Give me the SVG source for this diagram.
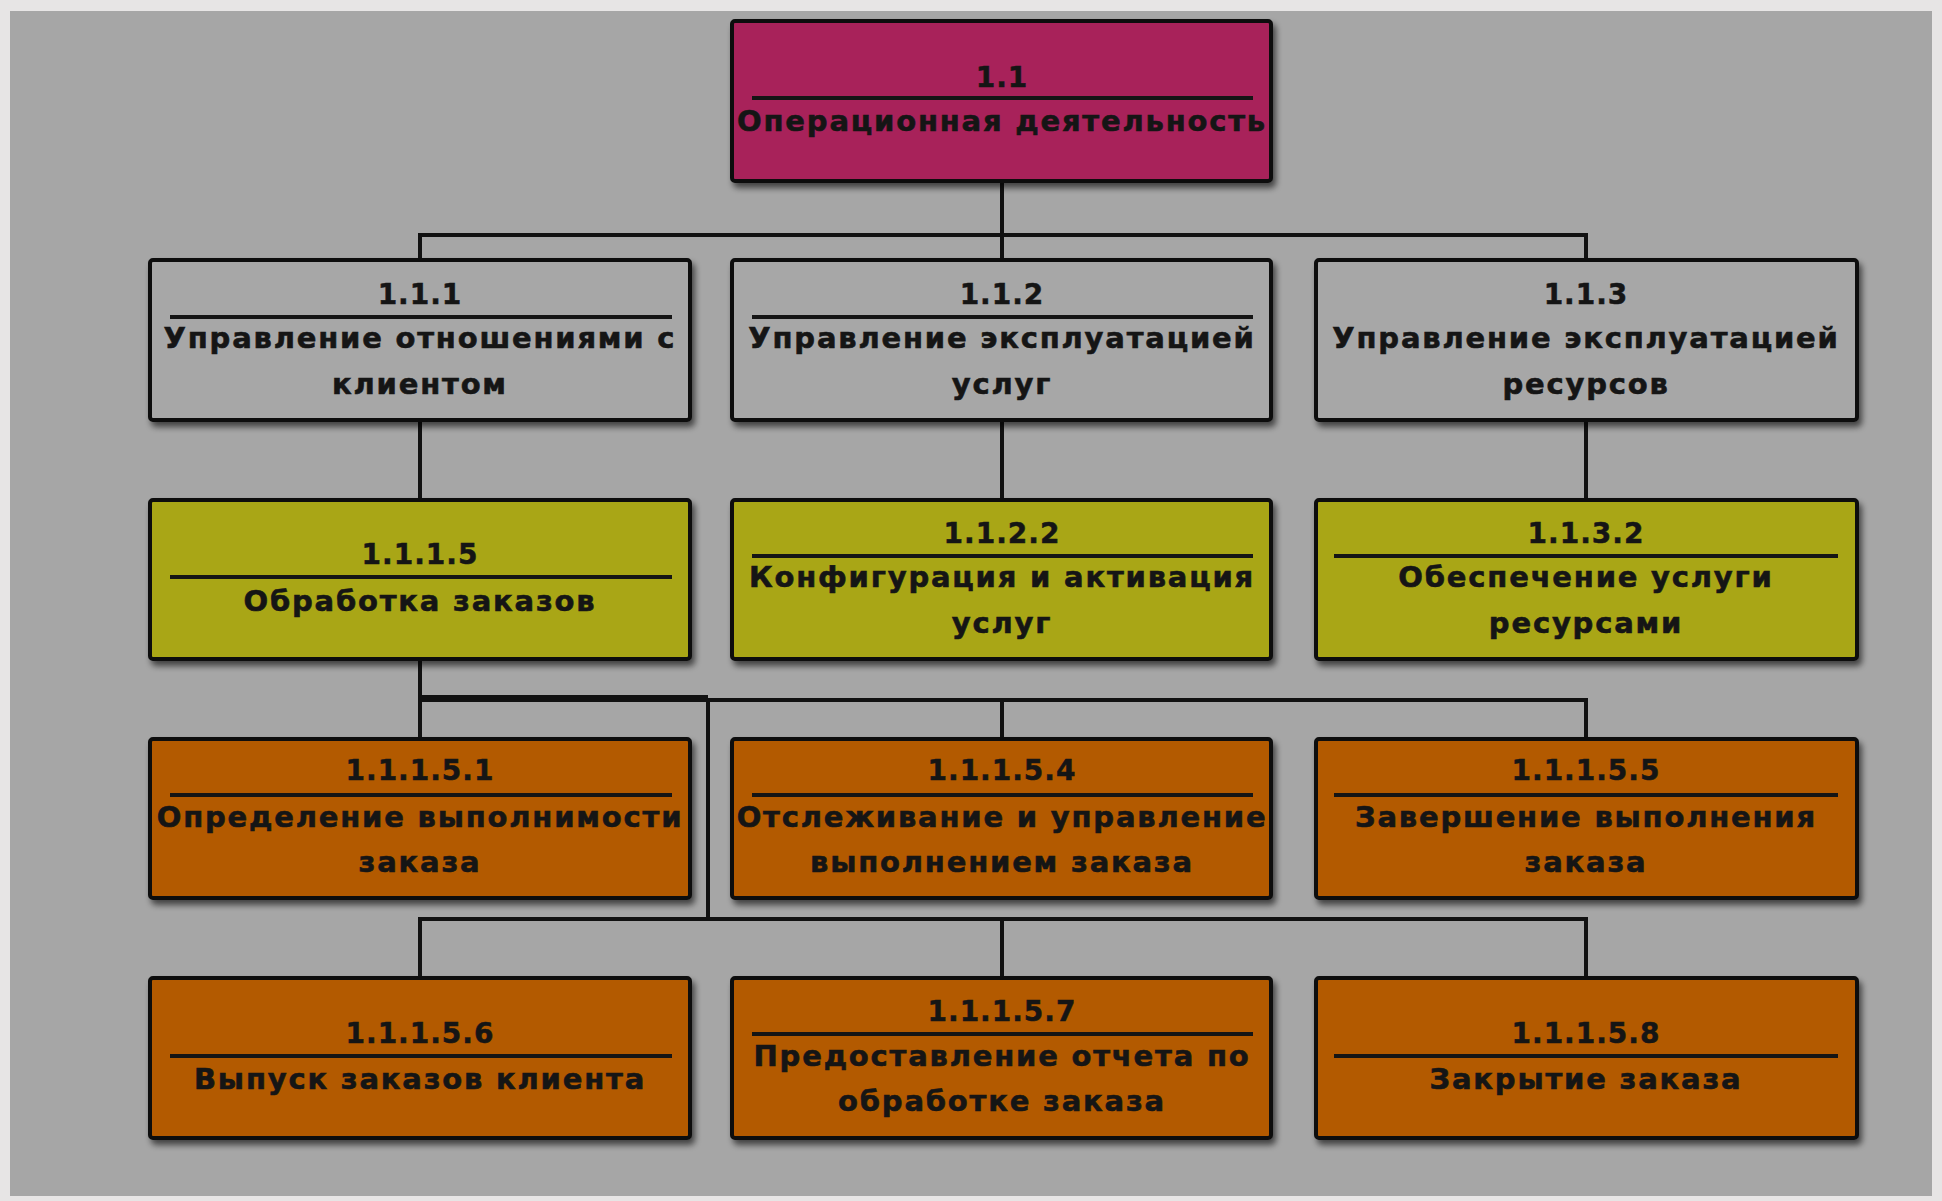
<svg xmlns="http://www.w3.org/2000/svg" width="1942" height="1201" viewBox="0 0 1942 1201">
<defs>
<filter id="sh" x="-5%" y="-10%" width="115%" height="130%">
<feGaussianBlur in="SourceAlpha" stdDeviation="3"/>
<feOffset dx="3" dy="5" result="b"/>
<feComponentTransfer><feFuncA type="linear" slope="0.6"/></feComponentTransfer>
<feMerge><feMergeNode/><feMergeNode in="SourceGraphic"/></feMerge>
</filter>
<style>
.box{stroke:#111;stroke-width:4;filter:url(#sh)}
.mag{fill:#a8205a}
.gr{fill:#a7a7a7}
.ye{fill:#a9a612}
.or{fill:#b35a00}
.sep{stroke:#151515;stroke-width:4}
.num{font-family:"DejaVu Sans",Verdana,sans-serif;font-weight:bold;font-size:28px;letter-spacing:1px;fill:#151515;text-anchor:middle;stroke:#151515;stroke-width:0.5}
.lbl{font-family:"DejaVu Sans",Verdana,sans-serif;font-weight:bold;font-size:29px;letter-spacing:1.8px;fill:#151515;text-anchor:middle;stroke:#151515;stroke-width:0.6}
.con{fill:none;stroke:#111;stroke-width:4}
</style>
</defs>
<rect x="0" y="0" width="1942" height="1201" fill="#e7e5e5"/>
<rect x="10" y="11" width="1922" height="1185" fill="#a6a6a6"/>

<g id="connectors">
<path class="con" d="M1002,181 V260"/>
<path class="con" d="M420,260 V235 H1586 V260"/>
<path class="con" d="M420,420 V500 M1002,420 V500 M1586,420 V500"/>
<path class="con" d="M420,659 V739 M420,700 H1586 V739 M1002,700 V739"/>
<path class="con" d="M420,698 H708" style="stroke-width:6"/>
<path class="con" d="M708,700 V919 M420,978 V919 H1586 V978 M1002,919 V978"/>
</g>

<g id="n1_1">
<rect class="box mag" x="732" y="21" width="539" height="160" rx="3"/>
<text class="num" x="1002" y="87">1.1</text>
<line class="sep" x1="752" y1="98" x2="1253" y2="98"/>
<text class="lbl" x="1002" y="131">Операционная деятельность</text>
</g>

<g id="n1_1_1">
<rect class="box gr" x="150" y="260" width="540" height="160" rx="3"/>
<text class="num" x="420" y="304">1.1.1</text>
<line class="sep" x1="170" y1="317" x2="672" y2="317"/>
<text class="lbl" x="420" y="348">Управление отношениями с</text>
<text class="lbl" x="420" y="394">клиентом</text>
</g>

<g id="n1_1_2">
<rect class="box gr" x="732" y="260" width="539" height="160" rx="3"/>
<text class="num" x="1002" y="304">1.1.2</text>
<line class="sep" x1="752" y1="317" x2="1253" y2="317"/>
<text class="lbl" x="1002" y="348">Управление эксплуатацией</text>
<text class="lbl" x="1002" y="394">услуг</text>
</g>

<g id="n1_1_3">
<rect class="box gr" x="1316" y="260" width="541" height="160" rx="3"/>
<text class="num" x="1586" y="304">1.1.3</text>
<text class="lbl" x="1586" y="348">Управление эксплуатацией</text>
<text class="lbl" x="1586" y="394">ресурсов</text>
</g>

<g id="n1_1_1_5">
<rect class="box ye" x="150" y="500" width="540" height="159" rx="3"/>
<text class="num" x="420" y="564">1.1.1.5</text>
<line class="sep" x1="170" y1="577" x2="672" y2="577"/>
<text class="lbl" x="420" y="611">Обработка заказов</text>
</g>

<g id="n1_1_2_2">
<rect class="box ye" x="732" y="500" width="539" height="159" rx="3"/>
<text class="num" x="1002" y="543">1.1.2.2</text>
<line class="sep" x1="752" y1="556" x2="1253" y2="556"/>
<text class="lbl" x="1002" y="587">Конфигурация и активация</text>
<text class="lbl" x="1002" y="633">услуг</text>
</g>

<g id="n1_1_3_2">
<rect class="box ye" x="1316" y="500" width="541" height="159" rx="3"/>
<text class="num" x="1586" y="543">1.1.3.2</text>
<line class="sep" x1="1334" y1="556" x2="1838" y2="556"/>
<text class="lbl" x="1586" y="587">Обеспечение услуги</text>
<text class="lbl" x="1586" y="633">ресурсами</text>
</g>

<g id="n1_1_1_5_1">
<rect class="box or" x="150" y="739" width="540" height="159" rx="3"/>
<text class="num" x="420" y="780">1.1.1.5.1</text>
<line class="sep" x1="170" y1="795" x2="672" y2="795"/>
<text class="lbl" x="420" y="827">Определение выполнимости</text>
<text class="lbl" x="420" y="872">заказа</text>
</g>

<g id="n1_1_1_5_4">
<rect class="box or" x="732" y="739" width="539" height="159" rx="3"/>
<text class="num" x="1002" y="780">1.1.1.5.4</text>
<line class="sep" x1="752" y1="795" x2="1253" y2="795"/>
<text class="lbl" x="1002" y="827">Отслеживание и управление</text>
<text class="lbl" x="1002" y="872">выполнением заказа</text>
</g>

<g id="n1_1_1_5_5">
<rect class="box or" x="1316" y="739" width="541" height="159" rx="3"/>
<text class="num" x="1586" y="780">1.1.1.5.5</text>
<line class="sep" x1="1334" y1="795" x2="1838" y2="795"/>
<text class="lbl" x="1586" y="827">Завершение выполнения</text>
<text class="lbl" x="1586" y="872">заказа</text>
</g>

<g id="n1_1_1_5_6">
<rect class="box or" x="150" y="978" width="540" height="160" rx="3"/>
<text class="num" x="420" y="1043">1.1.1.5.6</text>
<line class="sep" x1="170" y1="1056" x2="672" y2="1056"/>
<text class="lbl" x="420" y="1089">Выпуск заказов клиента</text>
</g>

<g id="n1_1_1_5_7">
<rect class="box or" x="732" y="978" width="539" height="160" rx="3"/>
<text class="num" x="1002" y="1021">1.1.1.5.7</text>
<line class="sep" x1="752" y1="1034" x2="1253" y2="1034"/>
<text class="lbl" x="1002" y="1066">Предоставление отчета по</text>
<text class="lbl" x="1002" y="1111">обработке заказа</text>
</g>

<g id="n1_1_1_5_8">
<rect class="box or" x="1316" y="978" width="541" height="160" rx="3"/>
<text class="num" x="1586" y="1043">1.1.1.5.8</text>
<line class="sep" x1="1334" y1="1056" x2="1838" y2="1056"/>
<text class="lbl" x="1586" y="1089">Закрытие заказа</text>
</g>
</svg>
